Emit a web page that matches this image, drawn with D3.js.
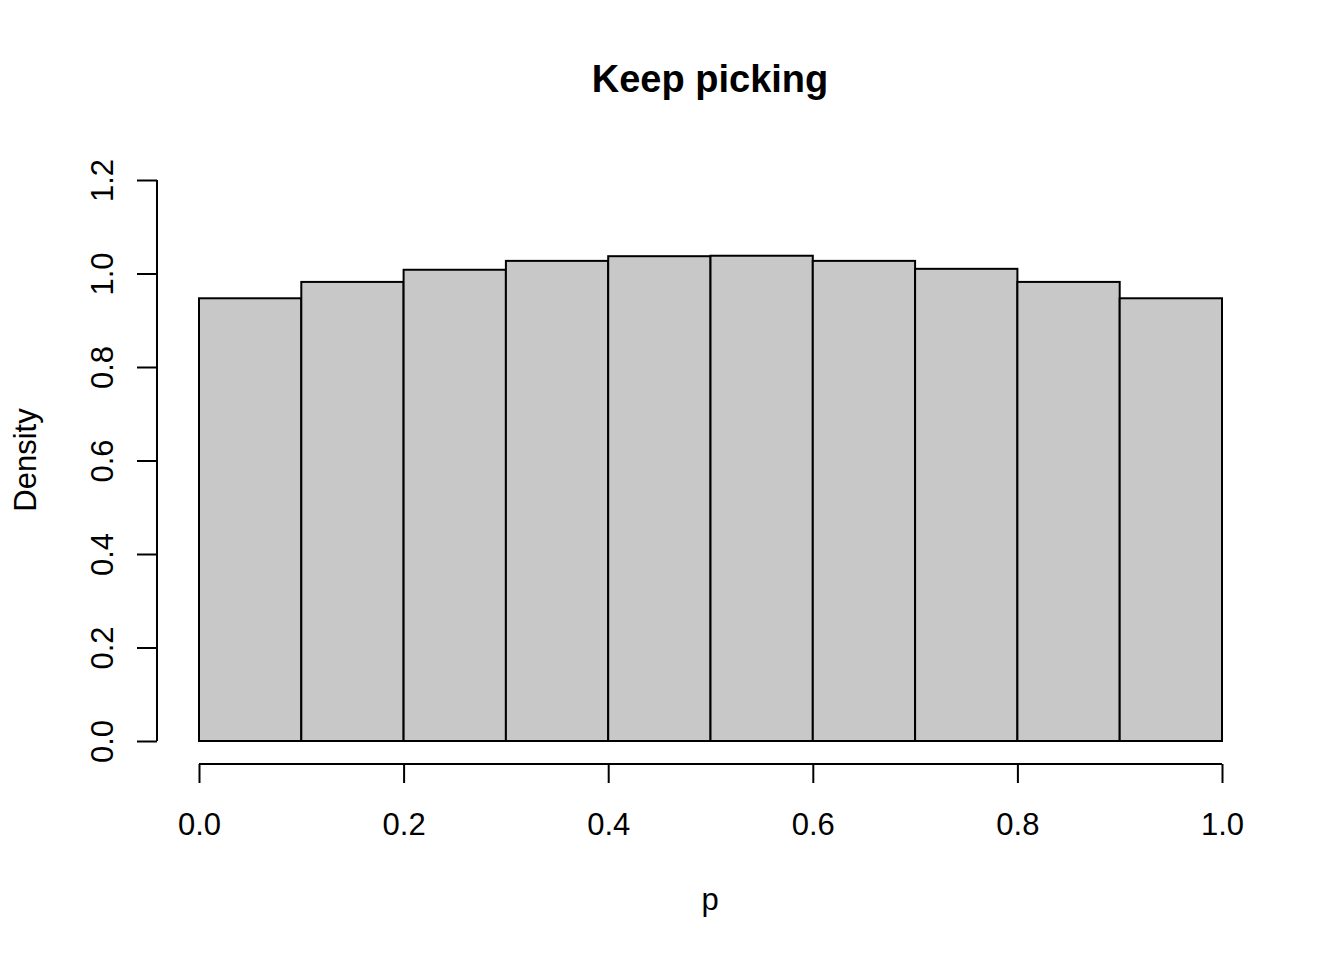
<!DOCTYPE html>
<html>
<head>
<meta charset="utf-8">
<script src="https://cdn.jsdelivr.net/npm/d3@7"></script>
<style>
  body { margin: 0; background: #fff; }
  svg { display: block; font-family: "Liberation Sans", Arial, sans-serif; }
</style>
</head>
<body>
<svg width="1344" height="960"></svg>
<script>
// histogram bins (left edges) and density per bin
const binStarts = [0.0, 0.1, 0.2, 0.3, 0.4, 0.5, 0.6, 0.7, 0.8, 0.9];
const binWidth = 0.1;
const densities = [0.947, 0.982, 1.008, 1.027, 1.037, 1.038, 1.027, 1.010, 0.982, 0.947];
const xTicks = [0.0, 0.2, 0.4, 0.6, 0.8, 1.0];
const yTicks = [0.0, 0.2, 0.4, 0.6, 0.8, 1.0, 1.2];

const svg = d3.select("svg");

// scales - pixel ranges picked to line up with R's plot region
const x = d3.scaleLinear().domain([0, 1]).range([199, 1222]);
const y = d3.scaleLinear().domain([0, 1.2]).range([741, 180]);

// bars
svg.append("g")
  .selectAll("rect")
  .data(binStarts.map((s, i) => ({ x0: s, x1: s + binWidth, d: densities[i] })))
  .join("rect")
  .attr("x", (d) => x(d.x0))
  .attr("y", (d) => y(d.d))
  .attr("width", (d) => x(d.x1) - x(d.x0))
  .attr("height", (d) => y(0) - y(d.d))
  .attr("fill", "#c8c8c8")
  .attr("stroke", "#000")
  .attr("stroke-width", 2);

// x axis, drawn a bit below the plot like R does
const xAxis = svg.append("g")
  .attr("transform", "translate(0,764)")
  .call(d3.axisBottom(x).tickValues(xTicks).tickFormat(d3.format(".1f")).tickSize(19));
xAxis.select(".domain").attr("d", `M${x(0)},0H${x(1)}`).attr("stroke-width", 2);
xAxis.selectAll(".tick line").attr("stroke-width", 2);
xAxis.selectAll(".tick text").attr("font-size", 31).attr("fill", "#000")
  .attr("dy", null).attr("y", 71);

// y axis with rotated labels
const yAxis = svg.append("g")
  .attr("transform", "translate(157,0)")
  .call(d3.axisLeft(y).tickValues(yTicks).tickFormat(d3.format(".1f")).tickSize(20));
yAxis.select(".domain").attr("d", `M0,${y(0)}V${y(1.2)}`).attr("stroke-width", 2);
yAxis.selectAll(".tick line").attr("stroke-width", 2);
yAxis.selectAll(".tick text")
  .attr("font-size", 31).attr("fill", "#000")
  .attr("x", null).attr("dy", null)
  .attr("text-anchor", "middle")
  .attr("transform", "translate(-44,0) rotate(-90)");

// titles
svg.append("text")
  .attr("x", 710).attr("y", 92)
  .attr("text-anchor", "middle")
  .attr("font-size", 38).attr("font-weight", "bold")
  .text("Keep picking");

svg.append("text")
  .attr("x", 710).attr("y", 910)
  .attr("text-anchor", "middle")
  .attr("font-size", 31)
  .text("p");

svg.append("text")
  .attr("transform", "translate(36,460) rotate(-90)")
  .attr("text-anchor", "middle")
  .attr("font-size", 31)
  .text("Density");
</script>
</body>
</html>
